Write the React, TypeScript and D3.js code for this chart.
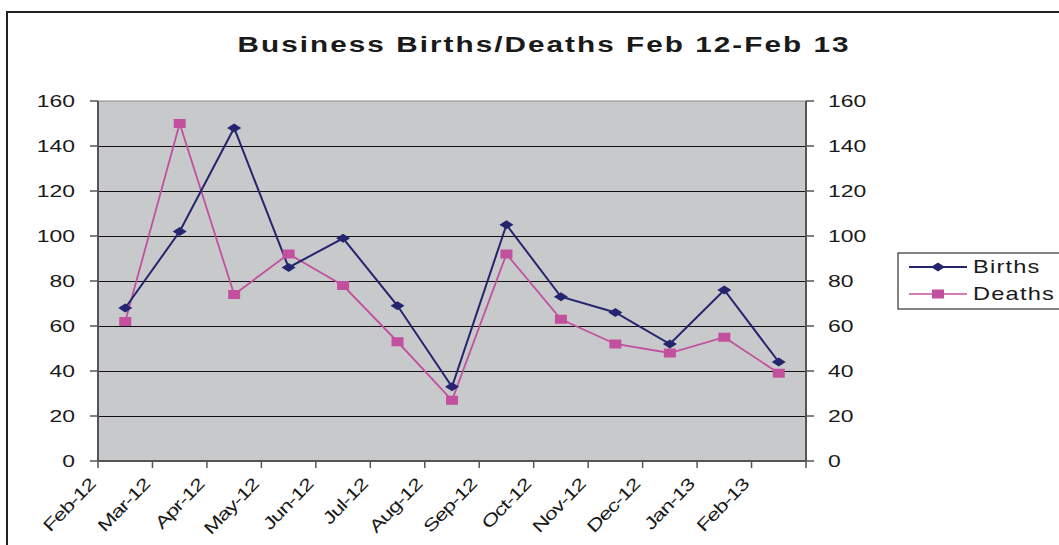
import React, { useEffect, useRef } from 'react';
import * as d3 from 'd3';

// data
const months = ['Feb-12', 'Mar-12', 'Apr-12', 'May-12', 'Jun-12', 'Jul-12', 'Aug-12', 'Sep-12', 'Oct-12', 'Nov-12', 'Dec-12', 'Jan-13', 'Feb-13'];
const births = [68, 102, 148, 86, 99, 69, 33, 105, 73, 66, 52, 76, 44];
const deaths = [62, 150, 74, 92, 78, 53, 27, 92, 63, 52, 48, 55, 39];
const yTicks = [0, 20, 40, 60, 80, 100, 120, 140, 160];

const W = 1059;
const H = 545;
const FONT = '"Liberation Sans", Arial, sans-serif';
const BLUE = '#25246f';
const PINK = '#c2509f';
const INK = '#1a1a1a';
const SX = 1.35; // the original picture is stretched sideways

// text drawn with the same sideways stretch as the source image
function label(parent: any, x: number, y: number, txt: string, size: number, anchor: string, pre = '') {
    const g = parent.append('g')
        .attr('transform', `translate(${x},${y}) ${pre} scale(${SX},1)`);
    return g.append('text')
        .attr('text-anchor', anchor)
        .attr('font-family', FONT).attr('font-size', size)
        .attr('fill', INK)
        .text(txt);
}

function drawChart(svgRef: React.RefObject<SVGSVGElement>) {
    const svg = d3.select(svgRef.current);
    svg.selectAll('*').remove();

    const left = 98, right = 806, top = 101, bottom = 461;

    const x = d3.scaleBand<string>().domain(months).range([left, right]);
    const y = d3.scaleLinear().domain([0, 160]).range([bottom, top]);
    const cx = (m: string) => (x(m) as number) + x.bandwidth() / 2;

    // outer frame
    svg.append('rect')
        .attr('x', 7).attr('y', 12)
        .attr('width', W + 20).attr('height', H + 20)
        .attr('fill', 'white').attr('stroke', '#222').attr('stroke-width', 2);

    // title
    label(svg, 543, 52, 'Business Births/Deaths Feb 12-Feb 13', 22, 'middle')
        .attr('font-weight', 'bold')
        .attr('textLength', 611 / SX).attr('lengthAdjust', 'spacing');

    // plot area
    svg.append('rect')
        .attr('x', left).attr('y', top)
        .attr('width', right - left).attr('height', bottom - top)
        .attr('fill', '#c8c9cb')
        .attr('stroke', '#8a8a8a').attr('stroke-width', 1);

    // gridlines
    svg.append('g').selectAll('line')
        .data(yTicks.filter(t => t > 0 && t < 160))
        .join('line')
        .attr('x1', left).attr('x2', right)
        .attr('y1', d => Math.round(y(d)) + 0.5).attr('y2', d => Math.round(y(d)) + 0.5)
        .attr('stroke', '#111').attr('stroke-width', 1);

    // y axes: lines + ticks
    [left, right].forEach((ax, side) => {
        const g = svg.append('g');
        g.append('line')
            .attr('x1', ax).attr('x2', ax).attr('y1', top).attr('y2', bottom)
            .attr('stroke', '#555').attr('stroke-width', 2);
        g.selectAll('line.tk')
            .data(yTicks)
            .join('line')
            .attr('class', 'tk')
            .attr('x1', side === 0 ? ax - 8 : ax).attr('x2', side === 0 ? ax : ax + 8)
            .attr('y1', d => y(d)).attr('y2', d => y(d))
            .attr('stroke', '#555').attr('stroke-width', 1.5);
        yTicks.forEach(t => {
            label(g, side === 0 ? ax - 23 : ax + 22, y(t), String(t), 17, side === 0 ? 'end' : 'start')
                .attr('dy', '0.36em');
        });
    });

    // x axis with ticks between categories
    const xAxis = svg.append('g').attr('transform', `translate(0,${bottom})`);
    xAxis.append('line')
        .attr('x1', left).attr('x2', right)
        .attr('stroke', '#555').attr('stroke-width', 2);
    const edges = months.map(m => x(m) as number).concat([right]);
    xAxis.selectAll('line.tk')
        .data(edges)
        .join('line')
        .attr('class', 'tk')
        .attr('x1', d => d).attr('x2', d => d)
        .attr('y1', 0).attr('y2', 7)
        .attr('stroke', '#555').attr('stroke-width', 1.5);
    months.forEach(m => {
        label(xAxis, (x(m) as number) - 6, 20, m, 17, 'end', 'rotate(-46)')
            .attr('dy', '0.35em')
            .attr('letter-spacing', -0.8);
    });

    // lines
    const line = d3.line<number>()
        .x((_, i) => cx(months[i]))
        .y(d => y(d));

    svg.append('path')
        .attr('d', line(deaths))
        .attr('fill', 'none').attr('stroke', PINK).attr('stroke-width', 1.8);
    svg.append('path')
        .attr('d', line(births))
        .attr('fill', 'none').attr('stroke', BLUE).attr('stroke-width', 2);

    const diamond = (px: number, py: number) =>
        `M${px - 7},${py} L${px},${py - 4.5} L${px + 7},${py} L${px},${py + 4.5} Z`;

    svg.append('g').selectAll('rect')
        .data(deaths)
        .join('rect')
        .attr('x', (_, i) => cx(months[i]) - 6)
        .attr('y', d => y(d) - 4.5)
        .attr('width', 12).attr('height', 9)
        .attr('fill', PINK);

    svg.append('g').selectAll('path')
        .data(births)
        .join('path')
        .attr('d', (d, i) => diamond(cx(months[i]), y(d)))
        .attr('fill', BLUE);

    // legend
    const lg = svg.append('g');
    lg.append('rect')
        .attr('x', 898).attr('y', 253)
        .attr('width', 170).attr('height', 56)
        .attr('fill', 'white').attr('stroke', '#333').attr('stroke-width', 1.2);
    const items = [
        { name: 'Births', color: BLUE, yy: 267 },
        { name: 'Deaths', color: PINK, yy: 294 },
    ];
    items.forEach((it, i) => {
        lg.append('line')
            .attr('x1', 909).attr('x2', 967)
            .attr('y1', it.yy).attr('y2', it.yy)
            .attr('stroke', it.color).attr('stroke-width', i === 0 ? 1.8 : 1.5);
        if (i === 0) {
            lg.append('path').attr('d', diamond(938, it.yy)).attr('fill', it.color);
        } else {
            lg.append('rect')
                .attr('x', 932).attr('y', it.yy - 4.5)
                .attr('width', 12).attr('height', 9).attr('fill', it.color);
        }
        label(lg, 973, it.yy + 6, it.name, 17.5, 'start')
            .attr('letter-spacing', 0.9);
    });
}

export default function App() {
    const svg = useRef<SVGSVGElement>(null);

    useEffect(() => {
        drawChart(svg);
    }, []);

    return (
        <svg
            ref={svg}
            width={W}
            height={H}
            style={{ position: 'absolute', left: 0, top: 0, display: 'block', background: 'white' }}
        />
    );
}
